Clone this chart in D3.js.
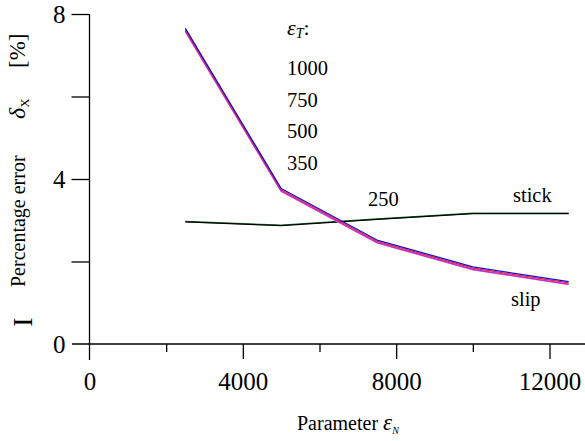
<!DOCTYPE html>
<html>
<head>
<meta charset="utf-8">
<script src="https://cdn.jsdelivr.net/npm/d3@7"></script>
<style>
  html, body { margin: 0; padding: 0; background: #fff; }
  svg { display: block; }
  svg text { font-family: "Liberation Serif", "Times New Roman", serif; fill: #000; }
</style>
</head>
<body>
<svg id="chart" width="585" height="441" font-family="Liberation Serif, serif"></svg>
<script>
// Parameter εN sampled at five values
const epsN = [2500, 5000, 7500, 10000, 12500];

// Slip regime error for each εT (nearly coincident curves)
const slip1000 = [7.65, 3.77, 2.52, 1.87, 1.51];
const slip750  = [7.62, 3.74, 2.49, 1.84, 1.48];
const slip500  = [7.59, 3.71, 2.46, 1.81, 1.45];
const slip350  = [7.57, 3.70, 2.45, 1.80, 1.44];

// Stick regime error
const stickA = [2.97, 2.88, 3.03, 3.17, 3.17];
const stickB = [2.96, 2.87, 3.02, 3.16, 3.16];

// Axis ticks
const xMajor = [0, 4000, 8000, 12000];
const xMinor = [2000, 6000, 10000];
const yTicks = [0, 2, 4, 6, 8];
const yLabels = [0, 4, 8];

// εT labels
const epsTLabels = ["1000", "750", "500", "350"];

const svg = d3.select("#chart");

const x = d3.scaleLinear().domain([0, 12000]).range([89.5, 549.5]);
const y = d3.scaleLinear().domain([0, 8]).range([344, 14]);

const axisColor = "#000";
const serif = "Liberation Serif, Times New Roman, serif";

// x axis line (extends past the last tick)
svg.append("line")
  .attr("x1", 72).attr("x2", 585)
  .attr("y1", y(0)).attr("y2", y(0))
  .attr("stroke", axisColor).attr("stroke-width", 1.3);

// y axis line (extends below zero)
svg.append("line")
  .attr("x1", x(0)).attr("x2", x(0))
  .attr("y1", y(8)).attr("y2", 360)
  .attr("stroke", axisColor).attr("stroke-width", 1.3);

// x axis ticks and labels
const xAxisMajor = d3.axisBottom(x).tickValues(xMajor).tickSize(15).tickPadding(13)
  .tickFormat(d3.format("d"));
const gx = svg.append("g").attr("transform", `translate(0,${y(0)})`).call(xAxisMajor)
  .attr("font-family", serif);
gx.select(".domain").remove();
gx.selectAll(".tick line").attr("stroke-width", 1.3);
gx.selectAll(".tick text").attr("font-size", 25);
gx.selectAll(".tick").filter(d => d === 0).select("line").remove();

const xAxisMinor = d3.axisBottom(x).tickValues(xMinor).tickSize(8).tickFormat("");
const gxm = svg.append("g").attr("transform", `translate(0,${y(0)})`).call(xAxisMinor);
gxm.select(".domain").remove();
gxm.selectAll(".tick line").attr("stroke-width", 1.3);

// y axis ticks and labels
const yAxis = d3.axisLeft(y).tickValues(yTicks).tickSize(18).tickPadding(6)
  .tickFormat(d => yLabels.includes(d) ? d : "");
const gy = svg.append("g").attr("transform", `translate(${x(0)},0)`).call(yAxis)
  .attr("font-family", serif);
gy.select(".domain").remove();
gy.selectAll(".tick line").attr("stroke-width", 1.3);
gy.selectAll(".tick text").attr("font-size", 25);
gy.selectAll(".tick").filter(d => d === 0).select("line").remove();

// Curves
const line = d3.line().x((d, i) => x(epsN[i])).y(d => y(d));

const series = [
  { v: stickA, c: "#1a7a2a" },
  { v: stickB, c: "#000000" },
  { v: slip350, c: "#e060d0" },
  { v: slip500, c: "#b030e0" },
  { v: slip750, c: "#ff2020" },
  { v: slip1000, c: "#1010e0" }
];
svg.append("g").selectAll("path").data(series).join("path")
  .attr("d", d => line(d.v))
  .attr("fill", "none")
  .attr("stroke", d => d.c)
  .attr("stroke-width", 1.3)
  .attr("stroke-linejoin", "round");

// εT annotation
const et = svg.append("text").attr("x", 287).attr("y", 35).attr("font-size", 22);
et.append("tspan").attr("font-style", "italic").text("ε");
et.append("tspan").attr("font-style", "italic").attr("font-size", 14).attr("dy", 3).text("T");
et.append("tspan").attr("dy", -3).text(":");

svg.append("g").selectAll("text").data(epsTLabels).join("text")
  .attr("x", 287).attr("y", (d, i) => 75 + i * 31.5)
  .attr("font-size", 20.5)
  .text(d => d);

svg.append("text").attr("x", 368).attr("y", 206).attr("font-size", 20.5).text("250");
svg.append("text").attr("x", 513).attr("y", 202).attr("font-size", 20.5).text("stick");
svg.append("text").attr("x", 511).attr("y", 306).attr("font-size", 20.5).text("slip");

// x axis title
const xt = svg.append("text").attr("x", 297).attr("y", 430).attr("font-size", 20);
xt.append("tspan").text("Parameter ");
xt.append("tspan").attr("font-style", "italic").attr("font-size", 23).text("ε");
xt.append("tspan").attr("font-style", "italic").attr("font-size", 10).attr("dy", 4).text("N");

// y axis title, reading upward
const yl = (yy, xx) => svg.append("text").attr("transform", `translate(${xx},${yy}) rotate(-90)`);
yl(287, 25).attr("font-size", 20).text("Percentage error");
const dl = yl(119, 25).attr("font-size", 24);
dl.append("tspan").attr("font-style", "italic").text("δ");
dl.append("tspan").attr("font-size", 13).attr("dy", 4).text("X");
yl(68, 25).attr("font-size", 23).text("[%]");
yl(322, 32).attr("font-size", 28).attr("text-anchor", "middle").text("I");
</script>
</body>
</html>
